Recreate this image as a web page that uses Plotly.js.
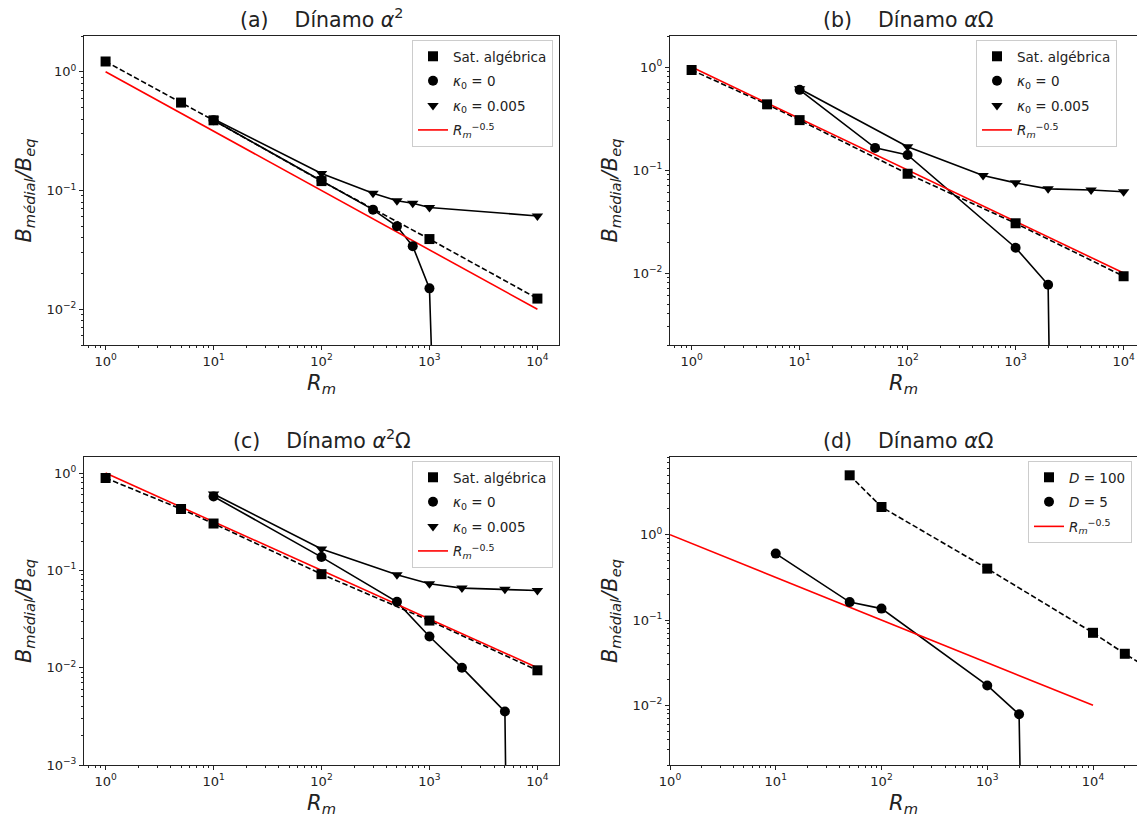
<!DOCTYPE html>
<html>
<head>
<meta charset="utf-8">
<script src="https://cdn.plot.ly/plotly-3.0.1.min.js"></script>
<style>html,body{margin:0;padding:0;background:#fff;}#chart{width:1137px;height:822px;}</style>
</head>
<body>
<div id="chart"></div>
<script>
// ---------------- data ----------------
// a value of 0 in the original data falls below a log axis; it is written as ZERO
const ZERO = 1e-30;

// (a) Dínamo α²
const a_satX = [1, 5, 10, 100, 1000, 10000];
const a_satY = [1.22, 0.55, 0.39, 0.12, 0.039, 0.0123];
const a_k0X  = [10, 100, 300, 500, 700, 1000, 10000];
const a_k0Y  = [0.39, 0.122, 0.069, 0.050, 0.034, 0.015, ZERO];
const a_k5X  = [10, 100, 300, 500, 700, 1000, 10000];
const a_k5Y  = [0.40, 0.139, 0.095, 0.082, 0.078, 0.072, 0.061];

// (b) Dínamo αΩ
const b_satX = [1, 5, 10, 100, 1000, 10000];
const b_satY = [0.935, 0.434, 0.305, 0.092, 0.0304, 0.0093];
const b_k0X  = [10, 50, 100, 1000, 2000, 5000];
const b_k0Y  = [0.60, 0.164, 0.140, 0.0176, 0.0077, ZERO];
const b_k5X  = [10, 100, 500, 1000, 2000, 5000, 10000];
const b_k5Y  = [0.615, 0.168, 0.0885, 0.075, 0.0656, 0.064, 0.0614];

// (c) Dínamo α²Ω
const c_satX = [1, 5, 10, 100, 1000, 10000];
const c_satY = [0.89, 0.427, 0.303, 0.0914, 0.0305, 0.0094];
const c_k0X  = [10, 100, 500, 1000, 2000, 5000, 10000];
const c_k0Y  = [0.575, 0.137, 0.0475, 0.0209, 0.010, 0.00354, ZERO];
const c_k5X  = [10, 100, 500, 1000, 2000, 5000, 10000];
const c_k5Y  = [0.61, 0.166, 0.090, 0.0728, 0.0657, 0.064, 0.0621];

// (d) Dínamo αΩ
const d_D100X = [50, 100, 1000, 10000, 20000, 50000];
const d_D100Y = [4.96, 2.11, 0.40, 0.0708, 0.0402, 0.020];
const d_D5X   = [10, 50, 100, 1000, 2000, 5000];
const d_D5Y   = [0.60, 0.162, 0.136, 0.0171, 0.00785, ZERO];

// reference power law R_m^-0.5 (end points)
const powX = [1, 10000];
const powY = [1, 0.01];

// tick labels
const xTickVals = [1, 10, 100, 1000, 10000];
const xTickText = ['10<sup>0</sup>', '10<sup>1</sup>', '10<sup>2</sup>', '10<sup>3</sup>', '10<sup>4</sup>'];
const yTickVals = [0.001, 0.01, 0.1, 1];
const yTickText = ['10<sup>−3</sup>', '10<sup>−2</sup>', '10<sup>−1</sup>', '10<sup>0</sup>'];

// labels
const titles = ['(a)\u00a0\u00a0\u00a0\u00a0Dínamo <i>α</i><sup>2</sup>',
                '(b)\u00a0\u00a0\u00a0\u00a0Dínamo <i>α</i>Ω',
                '(c)\u00a0\u00a0\u00a0\u00a0Dínamo <i>α</i><sup>2</sup>Ω',
                '(d)\u00a0\u00a0\u00a0\u00a0Dínamo <i>α</i>Ω'];
const nameSat = 'Sat. algébrica';
const nameK0 = '<i>κ</i><sub>0</sub> = 0';
const nameK5 = '<i>κ</i><sub>0</sub> = 0.005';
const namePow = '<i>R</i><sub><i>m</i></sub><sup>−0.5</sup>';
const nameD100 = '<i>D</i> = 100';
const nameD5 = '<i>D</i> = 5';
const xLabel = '<i>R</i><sub><i>m</i></sub>';
const yLabel = '<i>B</i><sub><i>médial</i></sub><i>/B</i><sub><i>eq</i></sub>';

// ---------------- layout helpers ----------------
const W = 1137, H = 822;
const FONT = 'DejaVu Sans, sans-serif';
const px = p => p / W;
const py = p => 1 - p / H;

function minors(lo, hi) {
  const out = [];
  for (let e = lo; e <= hi; e++) for (let m = 2; m <= 9; m++) out.push(m * Math.pow(10, e));
  return out;
}

function xAxis(domPx, range, yref) {
  return {
    type: 'log', domain: [px(domPx[0]), px(domPx[1])], range: range, anchor: yref,
    showline: true, linecolor: '#222', linewidth: 1, mirror: true,
    showgrid: false, zeroline: false,
    ticks: 'outside', ticklen: 4, tickwidth: 1, tickcolor: '#222',
    tickmode: 'array', tickvals: xTickVals, ticktext: xTickText,
    tickfont: {family: FONT, size: 13, color: '#222'},
    minor: {tickmode: 'array', tickvals: minors(-1, 4), ticks: 'outside', ticklen: 2, tickwidth: 1, tickcolor: '#222', showgrid: false},
    title: {text: xLabel, font: {family: FONT, size: 21, color: '#222'}, standoff: 7},
    automargin: false
  };
}
function yAxis(domPx, range, xref, mirror) {
  return {
    type: 'log', domain: [py(domPx[1]), py(domPx[0])], range: range, anchor: xref,
    showline: true, linecolor: '#222', linewidth: 1, mirror: mirror,
    showgrid: false, zeroline: false,
    ticks: 'outside', ticklen: 4, tickwidth: 1, tickcolor: '#222',
    tickmode: 'array', tickvals: yTickVals, ticktext: yTickText,
    tickfont: {family: FONT, size: 13, color: '#222'},
    minor: {tickmode: 'array', tickvals: minors(-4, 1), ticks: 'outside', ticklen: 2, tickwidth: 1, tickcolor: '#222', showgrid: false},
    title: {text: yLabel, font: {family: FONT, size: 21, color: '#222'}, standoff: 9},
    automargin: false
  };
}

// ---------------- traces ----------------
const traces = [];
function lineTr(x, y, ax, ay, dash, color) {
  traces.push({x: x, y: y, xaxis: ax, yaxis: ay, type: 'scatter', mode: 'lines',
    line: {color: color || '#000', width: 1.6, dash: dash || 'solid'}, showlegend: false, hoverinfo: 'skip'});
}
function markTr(x, y, ax, ay, sym, size, name, leg, rank) {
  traces.push({x: x, y: y, xaxis: ax, yaxis: ay, type: 'scatter', mode: 'markers',
    marker: {symbol: sym, size: size, color: '#000'}, name: name, legend: leg,
    legendgroup: leg + name, legendrank: rank, showlegend: true});
}
function powTr(ax, ay, leg, rank) {
  traces.push({x: powX, y: powY, xaxis: ax, yaxis: ay, type: 'scatter', mode: 'lines',
    line: {color: '#ff0000', width: 1.6}, name: namePow, legend: leg,
    legendgroup: leg + 'pow', legendrank: rank, showlegend: true});
}
const DASH = '5.5px,2.6px';

function panel3(ax, ay, leg, satX, satY, k0X, k0Y, k5X, k5Y) {
  lineTr(satX, satY, ax, ay, DASH);
  lineTr(k0X, k0Y, ax, ay);
  lineTr(k5X, k5Y, ax, ay);
  powTr(ax, ay, leg, 4);
  markTr(satX, satY, ax, ay, 'square', 10, nameSat, leg, 1);
  markTr(k0X, k0Y, ax, ay, 'circle', 10, nameK0, leg, 2);
  markTr(k5X, k5Y, ax, ay, 'triangle-down', 10, nameK5, leg, 3);
}
panel3('x', 'y', 'legend', a_satX, a_satY, a_k0X, a_k0Y, a_k5X, a_k5Y);
panel3('x2', 'y2', 'legend2', b_satX, b_satY, b_k0X, b_k0Y, b_k5X, b_k5Y);
panel3('x3', 'y3', 'legend3', c_satX, c_satY, c_k0X, c_k0Y, c_k5X, c_k5Y);
// (d)
lineTr(d_D100X, d_D100Y, 'x4', 'y4', DASH);
lineTr(d_D5X, d_D5Y, 'x4', 'y4');
powTr('x4', 'y4', 'legend4', 3);
markTr(d_D100X, d_D100Y, 'x4', 'y4', 'square', 10, nameD100, 'legend4', 1);
markTr(d_D5X, d_D5Y, 'x4', 'y4', 'circle', 10, nameD5, 'legend4', 2);

// ---------------- layout ----------------
const L = Math.log10;
function legendAt(xPx, yPx, anchorX) {
  return {x: px(xPx), y: py(yPx), xanchor: anchorX, yanchor: 'top', xref: 'paper', yref: 'paper',
    bgcolor: 'rgba(255,255,255,0.85)', bordercolor: '#cccccc', borderwidth: 1,
    font: {family: FONT, size: 13.5, color: '#222'}, traceorder: 'grouped', tracegroupgap: 4,
    itemwidth: 30};
}
function titleAnn(text, cxPx, topPx) {
  return {text: text, x: px(cxPx), y: py(topPx), xref: 'paper', yref: 'paper', xanchor: 'center', yanchor: 'bottom',
    yshift: 2, showarrow: false, font: {family: FONT, size: 20.5, color: '#222'}};
}

const layout = {
  width: W, height: H, margin: {l: 0, r: 0, t: 0, b: 0, autoexpand: false},
  paper_bgcolor: '#fff', plot_bgcolor: '#fff', font: {family: FONT, color: '#222'},
  xaxis:  xAxis([84, 559], [-0.2, 4.2], 'y'),
  yaxis:  yAxis([36, 345], [L(0.005), L(2)], 'x', true),
  xaxis2: xAxis([670, 1137], [-0.2, -0.2 + 467 / 108], 'y2'),
  yaxis2: yAxis([36, 345], [L(0.002), L(2)], 'x2', false),
  xaxis3: xAxis([84, 559], [-0.2, 4.2], 'y3'),
  yaxis3: yAxis([457, 765], [-3, 0.165], 'x3', true),
  xaxis4: xAxis([670, 1137], [0, 467 / 105.75], 'y4'),
  yaxis4: yAxis([457, 765], [L(0.002), 0.91], 'x4', false),
  legend:  legendAt(553, 40, 'right'),
  legend2: legendAt(976, 40, 'left'),
  legend3: legendAt(553, 461, 'right'),
  legend4: legendAt(1028, 461, 'left'),
  annotations: [
    titleAnn(titles[0], 321.5, 36),
    titleAnn(titles[1], 907.5, 36),
    titleAnn(titles[2], 321.5, 457),
    titleAnn(titles[3], 907.5, 457)
  ],
  showlegend: true
};

Plotly.newPlot('chart', traces, layout, {displayModeBar: false, staticPlot: true});
</script>
</body>
</html>
